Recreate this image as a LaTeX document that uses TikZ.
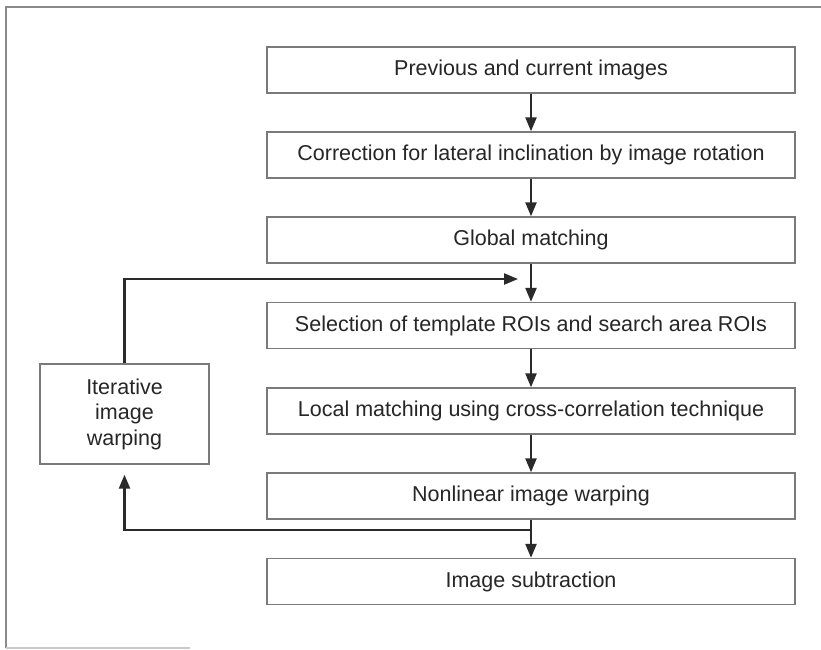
\documentclass[tikz,border=0pt]{standalone}
\usepackage{fontspec}
\setmainfont{Liberation Sans}
\usetikzlibrary{arrows.meta}
\definecolor{boxline}{HTML}{7A7A7A}
\definecolor{arrowcol}{HTML}{2A2A2A}
\definecolor{txt}{HTML}{262626}
\definecolor{framecol}{HTML}{8A8A8A}
\tikzset{
  stage/.style={draw=boxline, line width=1.4pt, fill=white,
    minimum width=528pt, minimum height=46pt, inner sep=0pt,
    text=txt, font=\fontsize{21.5}{25}\selectfont},
  loopbox/.style={draw=boxline, line width=1.4pt, fill=white,
    minimum width=169pt, minimum height=100pt, inner sep=0pt,
    align=center, text=txt, font=\fontsize{21.5}{25.5}\selectfont},
  flow/.style={draw=arrowcol, line width=2.4pt,
    -{Triangle[length=14pt,width=11pt]}},
  frameline/.style={draw=framecol, line width=1.6pt}
}
\begin{document}
\begin{tikzpicture}[x=1pt, y=-1pt]
  \useasboundingbox (0,0) rectangle (821,649);
  % outer frame
  \draw[frameline] (821,7) -- (6,7) -- (6,648);
  \draw[draw=framecol!45, line width=1.4pt] (6,648) -- (190,648);

  % main sequence of stages
  \node[stage] (b1) at (531,70)  {Previous and current images};
  \node[stage] (b2) at (531,155) {Correction for lateral inclination by image rotation};
  \node[stage] (b3) at (531,240) {Global matching};
  \node[stage] (b4) at (531,325.5) {Selection of template ROIs and search area ROIs};
  \node[stage] (b5) at (531,411) {Local matching using cross-correlation technique};
  \node[stage] (b6) at (531,496) {Nonlinear image warping};
  \node[stage] (b7) at (531,581.5) {Image subtraction};

  % feedback box
  \node[loopbox] (it) at (124.5,414) {Iterative\\image\\warping};

  % forward arrows
  \draw[flow] (b1.south) -- (b2.north);
  \draw[flow] (b2.south) -- (b3.north);
  \draw[flow] (b3.south) -- (b4.north);
  \draw[flow] (b4.south) -- (b5.north);
  \draw[flow] (b5.south) -- (b6.north);
  \draw[flow] (b6.south) -- (b7.north);

  % feedback loop
  \coordinate (fbin) at (518,279);
  \coordinate (fbout) at (531,530);
  \draw[flow] (it.north) |- (fbin);
  \draw[flow, shorten >=10pt] (fbout) -| (it.south);
\end{tikzpicture}
\end{document}
